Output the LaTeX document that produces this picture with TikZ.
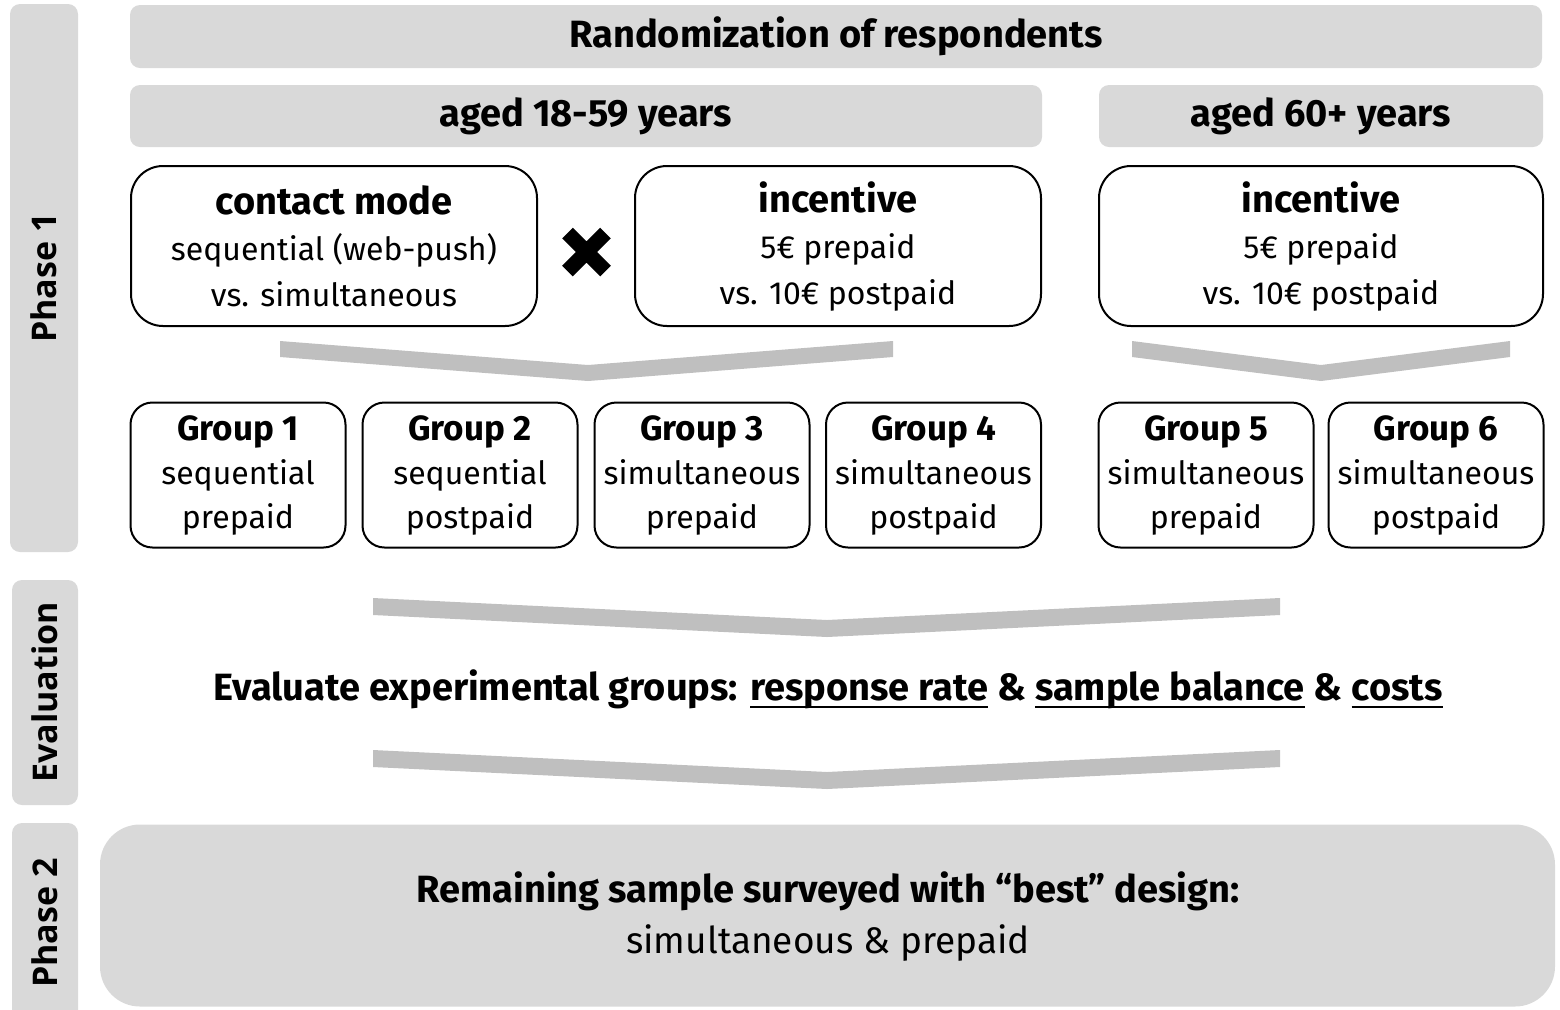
\documentclass[tikz,border=0pt]{standalone}
\usepackage{fontspec}
\setmainfont{Fira Sans}
\newfontfamily\sidefont{Open Sans}
\definecolor{barfill}{HTML}{D9D9D9}
\definecolor{chevfill}{HTML}{BFBFBF}
% underline with a heavier rule than \underline
\newcommand\uline[1]{\leavevmode\setbox0\hbox{#1}\rlap{\raisebox{-4pt}{\rule{\wd0}{1.1pt}}}\box0\relax}
\newcommand\headfont{\fontsize{19}{23}\selectfont\bfseries}
\begin{document}
\begin{tikzpicture}[x=0.5pt,y=-0.5pt,
  graybar/.style={fill=barfill, rounded corners=5pt, inner sep=0pt,
    font=\headfont},
  sidebar/.style={fill=barfill, rounded corners=5pt, inner sep=0pt,
    font=\sidefont\fontsize{17}{20}\selectfont\bfseries},
  optbox/.style={draw, line width=1pt, fill=white, rounded corners=16pt,
    align=center, inner sep=0pt, minimum height=80pt,
    font=\fontsize{16}{23}\selectfont},
  groupbox/.style={draw, line width=1pt, fill=white, rounded corners=11pt,
    align=center, inner sep=0pt, minimum width=107.5pt, minimum height=72.5pt,
    font=\fontsize{16}{22}\selectfont},
  chev/.style={fill=chevfill},
  plain/.style={align=center, inner sep=0pt}]
\useasboundingbox (0,0) rectangle (1560,1009);

% side labels
\node[sidebar, minimum width=34pt, minimum height=274pt] (ph1) at (44,278)
  {\rotatebox{90}{Phase 1}};
\node[sidebar, minimum width=33pt, minimum height=112.5pt] (ev) at (45,692.5)
  {\rotatebox{90}{Evaluation}};
\node[sidebar, minimum width=33pt, minimum height=100pt] (ph2) at (45,923)
  {\rotatebox{90}{Phase 2}};

% top bars
\node[graybar, minimum width=706pt, minimum height=31.5pt] (rand) at (836,36.5)
  {Randomization of respondents};
\node[graybar, minimum width=456pt, minimum height=31pt] (ageA) at (586,116)
  {aged 18-59 years};
\node[graybar, minimum width=222pt, minimum height=31pt] (ageB) at (1321,116)
  {aged 60+ years};

% factor boxes
\node[optbox, minimum width=203pt] (mode) at (334,246)
  {{\headfont contact mode}\\sequential (web-push)\\vs. simultaneous};
\node[optbox, minimum width=203pt] (incA) at (838,246)
  {{\headfont incentive}\\5€ prepaid\\vs. 10€ postpaid};
\node[optbox, minimum width=222pt] (incB) at (1321,246)
  {{\headfont incentive}\\5€ prepaid\\vs. 10€ postpaid};

% crossing symbol
\coordinate (cross) at (586.5,252);
\draw[line width=7.5pt] ([shift={(-19,-19)}]cross) -- ([shift={(19,19)}]cross)
  ([shift={(-19,19)}]cross) -- ([shift={(19,-19)}]cross);

% merging chevrons
\fill[chev] (280,341) -- (588,365) -- (893,341) -- (893,357) -- (588,381) -- (280,357) -- cycle;
\fill[chev] (1132,341) -- (1321,365) -- (1510,341) -- (1510,357) -- (1321,381) -- (1132,357) -- cycle;

% experimental groups
\tikzset{grouphead/.style={}}
\node[groupbox] (g1) at (238,475) {{\bfseries\fontsize{17.5}{22}\selectfont Group 1}\\sequential\\prepaid};
\node[groupbox] (g2) at (470,475) {{\bfseries\fontsize{17.5}{22}\selectfont Group 2}\\sequential\\postpaid};
\node[groupbox] (g3) at (702,475) {{\bfseries\fontsize{17.5}{22}\selectfont Group 3}\\simultaneous\\prepaid};
\node[groupbox] (g4) at (933.5,475) {{\bfseries\fontsize{17.5}{22}\selectfont Group 4}\\simultaneous\\postpaid};
\node[groupbox] (g5) at (1206,475) {{\bfseries\fontsize{17.5}{22}\selectfont Group 5}\\simultaneous\\prepaid};
\node[groupbox] (g6) at (1436,475) {{\bfseries\fontsize{17.5}{22}\selectfont Group 6}\\simultaneous\\postpaid};

% evaluation step
\fill[chev] (373,598) -- (827,620) -- (1280,598) -- (1280,615) -- (827,637) -- (373,615) -- cycle;
\node[plain, font=\headfont] (eval) at (828,689)
  {Evaluate experimental groups: \uline{response rate} \& \uline{sample balance} \& \uline{costs}};
\fill[chev] (373,750) -- (827,772) -- (1280,750) -- (1280,767) -- (827,789) -- (373,767) -- cycle;

% phase 2
\node[fill=barfill, rounded corners=20pt, minimum width=727.5pt, minimum height=91pt,
  inner sep=0pt] (final) at (827.5,915.5) {};
\node[plain, font=\fontsize{18.5}{25.5}\selectfont] (finaltxt) at (828,917)
  {{\headfont Remaining sample surveyed with “best” design:}\\simultaneous \& prepaid};
\end{tikzpicture}
\end{document}
